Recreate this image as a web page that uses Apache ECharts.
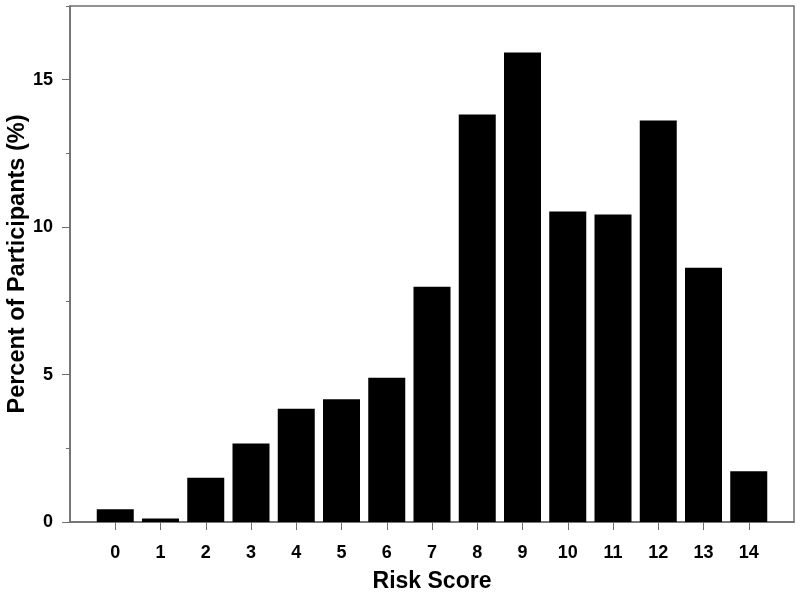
<!DOCTYPE html>
<html>
<head>
<meta charset="utf-8">
<script src="https://cdn.jsdelivr.net/npm/echarts@6/dist/echarts.min.js"></script>
<style>html,body{margin:0;padding:0;background:#fff}#c{width:800px;height:594px}</style>
</head>
<body>
<div id="c"></div>
<script>
const riskScores = [0,1,2,3,4,5,6,7,8,9,10,11,12,13,14];
const percents = [0.43,0.12,1.5,2.66,3.84,4.16,4.89,7.98,13.82,15.92,10.53,10.43,13.62,8.62,1.72];
const yMajorTicks = [0,5,10,15];
const xTitle = 'Risk Score';
const yTitle = 'Percent of Participants (%)';

const font = 'Liberation Sans, Arial, sans-serif';
const gray = '#6e6e6e';
const chart = echarts.init(document.getElementById('c'));
chart.setOption({
  animation: false,
  backgroundColor: '#fff',
  grid: {left: 70, right: 6, top: 6, bottom: 72, show: true, borderColor: gray, borderWidth: 1.5, backgroundColor: 'transparent', outerBoundsMode: 'none', containLabel: false},
  xAxis: {
    type: 'value', min: -1, max: 15, interval: 1,
    name: xTitle, nameLocation: 'middle', nameGap: 48, nameMoveOverlap: false,
    nameTextStyle: {fontFamily: font, fontWeight: 'bold', fontSize: 23, color: '#000'},
    axisLine: {show: true, onZero: false, lineStyle: {color: gray, width: 1.5}},
    axisTick: {show: true, length: 8, customValues: riskScores, lineStyle: {color: gray}},
    axisLabel: {customValues: riskScores, margin: 22, fontFamily: font, fontWeight: 'bold', fontSize: 18, color: '#000'},
    splitLine: {show: false}
  },
  yAxis: [{
    type: 'value', min: 0, max: 17.5, interval: 2.5,
    name: yTitle, nameLocation: 'middle', nameGap: 40, nameMoveOverlap: false,
    nameTextStyle: {fontFamily: font, fontWeight: 'bold', fontSize: 23.5, color: '#000'},
    axisLine: {show: true, onZero: false, lineStyle: {color: gray, width: 1.5}},
    axisTick: {show: true, length: 8, customValues: yMajorTicks, lineStyle: {color: gray}},
    axisLabel: {customValues: yMajorTicks, margin: 17, fontFamily: font, fontWeight: 'bold', fontSize: 18, color: '#000'},
    splitLine: {show: false}
  }, {
    type: 'value', min: 0, max: 17.5, interval: 2.5, position: 'left',
    axisLine: {show: false, onZero: false},
    axisTick: {show: true, length: 4, lineStyle: {color: gray}},
    axisLabel: {show: false},
    splitLine: {show: false}
  }],
  series: [{
    type: 'bar',
    yAxisIndex: 0,
    barWidth: 37,
    itemStyle: {color: '#000'},
    data: riskScores.map((s, i) => [s, percents[i]])
  }]
});
</script>
</body>
</html>
